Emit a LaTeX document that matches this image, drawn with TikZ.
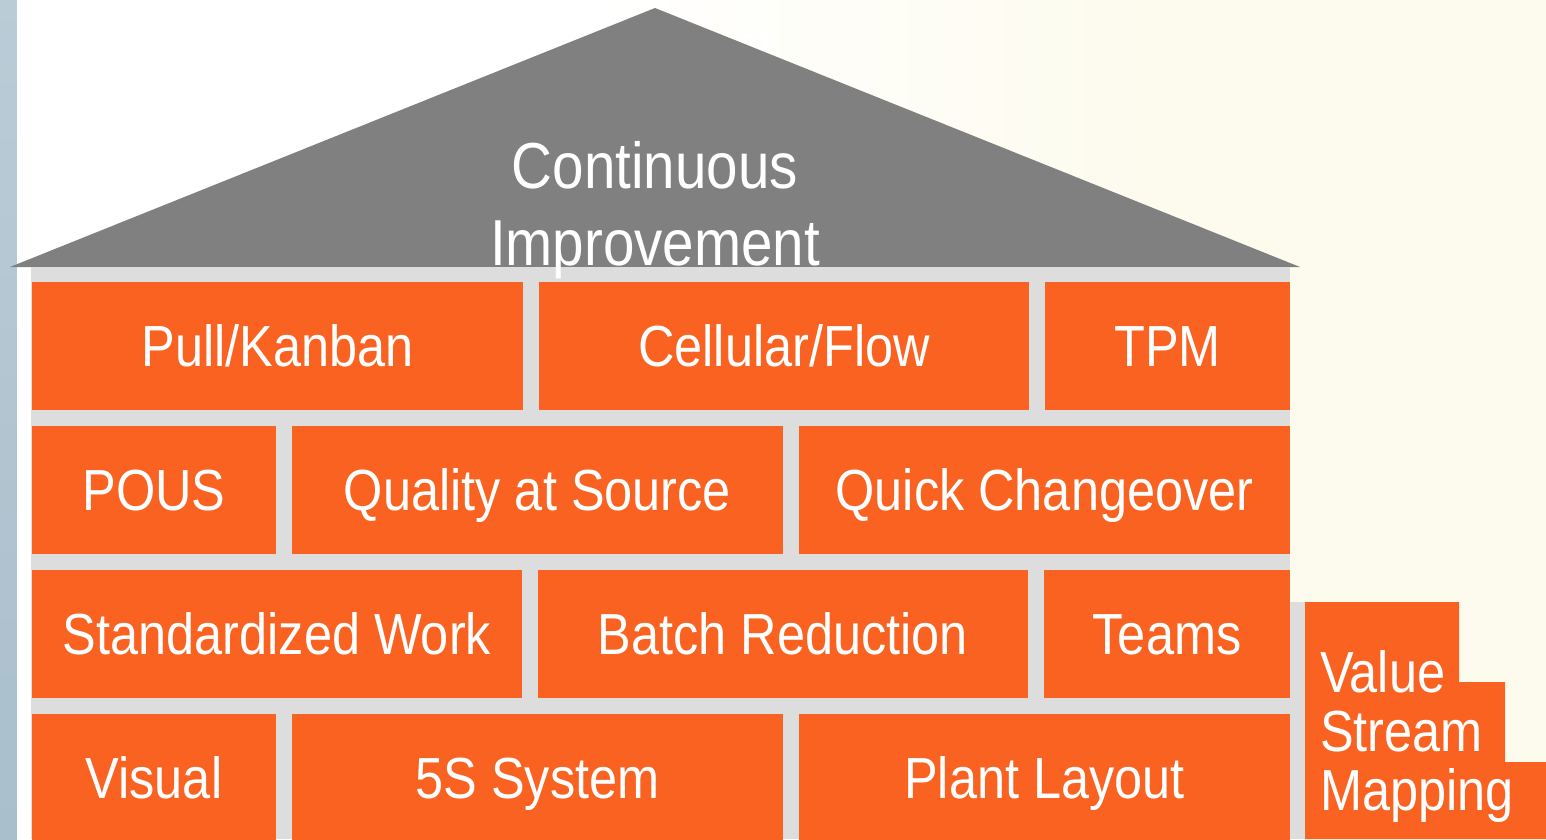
\documentclass[tikz,border=0pt]{standalone}
\usepackage{fontspec}
\setmainfont{Liberation Sans}[FakeStretch=0.87]
\usetikzlibrary{positioning}
\definecolor{brickorange}{HTML}{F96220}
\definecolor{roofgray}{HTML}{808080}
\definecolor{wallgray}{HTML}{DDDDDD}
\definecolor{creambg}{HTML}{FDFBEE}
\definecolor{stripblue}{HTML}{A9BFCC}

\tikzset{
  brick/.style={fill=brickorange,text=white,inner sep=0pt,outer sep=0pt,
    minimum height=128pt,text height=41.5pt,text depth=0pt,
    font=\fontsize{58}{66}\selectfont},
  label text/.style={text=white,inner sep=0pt,outer sep=0pt},
}

\begin{document}
\begin{tikzpicture}[x=1pt,y=-1pt]
  \useasboundingbox (0,0) rectangle (1546,839);
  \clip (0,0) rectangle (1546,839);

  % background
  \shade[top color=stripblue!80,bottom color=stripblue] (0,0) rectangle (17,839);
  \fill[white] (17,0) rectangle (600,839);
  \shade[left color=white,right color=creambg] (599,0) rectangle (1151,839);
  \fill[creambg] (1150,0) rectangle (1546,839);
  \node[label text,anchor=base west,font=\fontsize{63}{70}\selectfont] (title) at (163,67) {Continuous Improvement};

  % roof and wall
  \fill[roofgray] (10,267) -- (655,8) -- (1300,267) -- cycle;
  \fill[wallgray] (31,267) rectangle (1290,839);
  \fill[wallgray] (1290,602) rectangle (1305,839);
  \node[label text,anchor=base,align=center,font=\fontsize{65}{77}\selectfont] (roof) at (655,265) {Continuous\\Improvement};

  % bricks
  \node[brick,minimum width=491pt,anchor=north west] (pull) at (32,282) {Pull/Kanban};
  \node[brick,minimum width=490pt,right=16pt of pull] (flow) {Cellular/Flow};
  \node[brick,minimum width=245pt,right=16pt of flow] (tpm) {TPM};

  \node[brick,minimum width=244pt,below=16pt of pull.south west,anchor=north west] (pous) {POUS};
  \node[brick,minimum width=491pt,right=16pt of pous] (quality) {Quality at Source};
  \node[brick,minimum width=491pt,right=16pt of quality] (changeover) {Quick Changeover};

  \node[brick,minimum width=490pt,below=16pt of pous.south west,anchor=north west] (stdwork) {Standardized Work};
  \node[brick,minimum width=490pt,right=16pt of stdwork] (batch) {Batch Reduction};
  \node[brick,minimum width=246pt,right=16pt of batch] (teams) {Teams};

  \node[brick,minimum width=244pt,below=16pt of stdwork.south west,anchor=north west] (visual) {Visual};
  \node[brick,minimum width=491pt,right=16pt of visual] (fives) {5S System};
  \node[brick,minimum width=491pt,right=16pt of fives] (layout) {Plant Layout};

  % value stream mapping steps
  \fill[brickorange] (1305,602) -- (1459,602) -- (1459,682) -- (1505,682)
    -- (1505,762) -- (1546,762) -- (1546,839) -- (1305,839) -- cycle;
  \node[label text,anchor=base west,align=left,font=\fontsize{58}{59}\selectfont] (vsm) at (1320,810) {Value\\Stream\\Mapping};
\end{tikzpicture}
\end{document}
